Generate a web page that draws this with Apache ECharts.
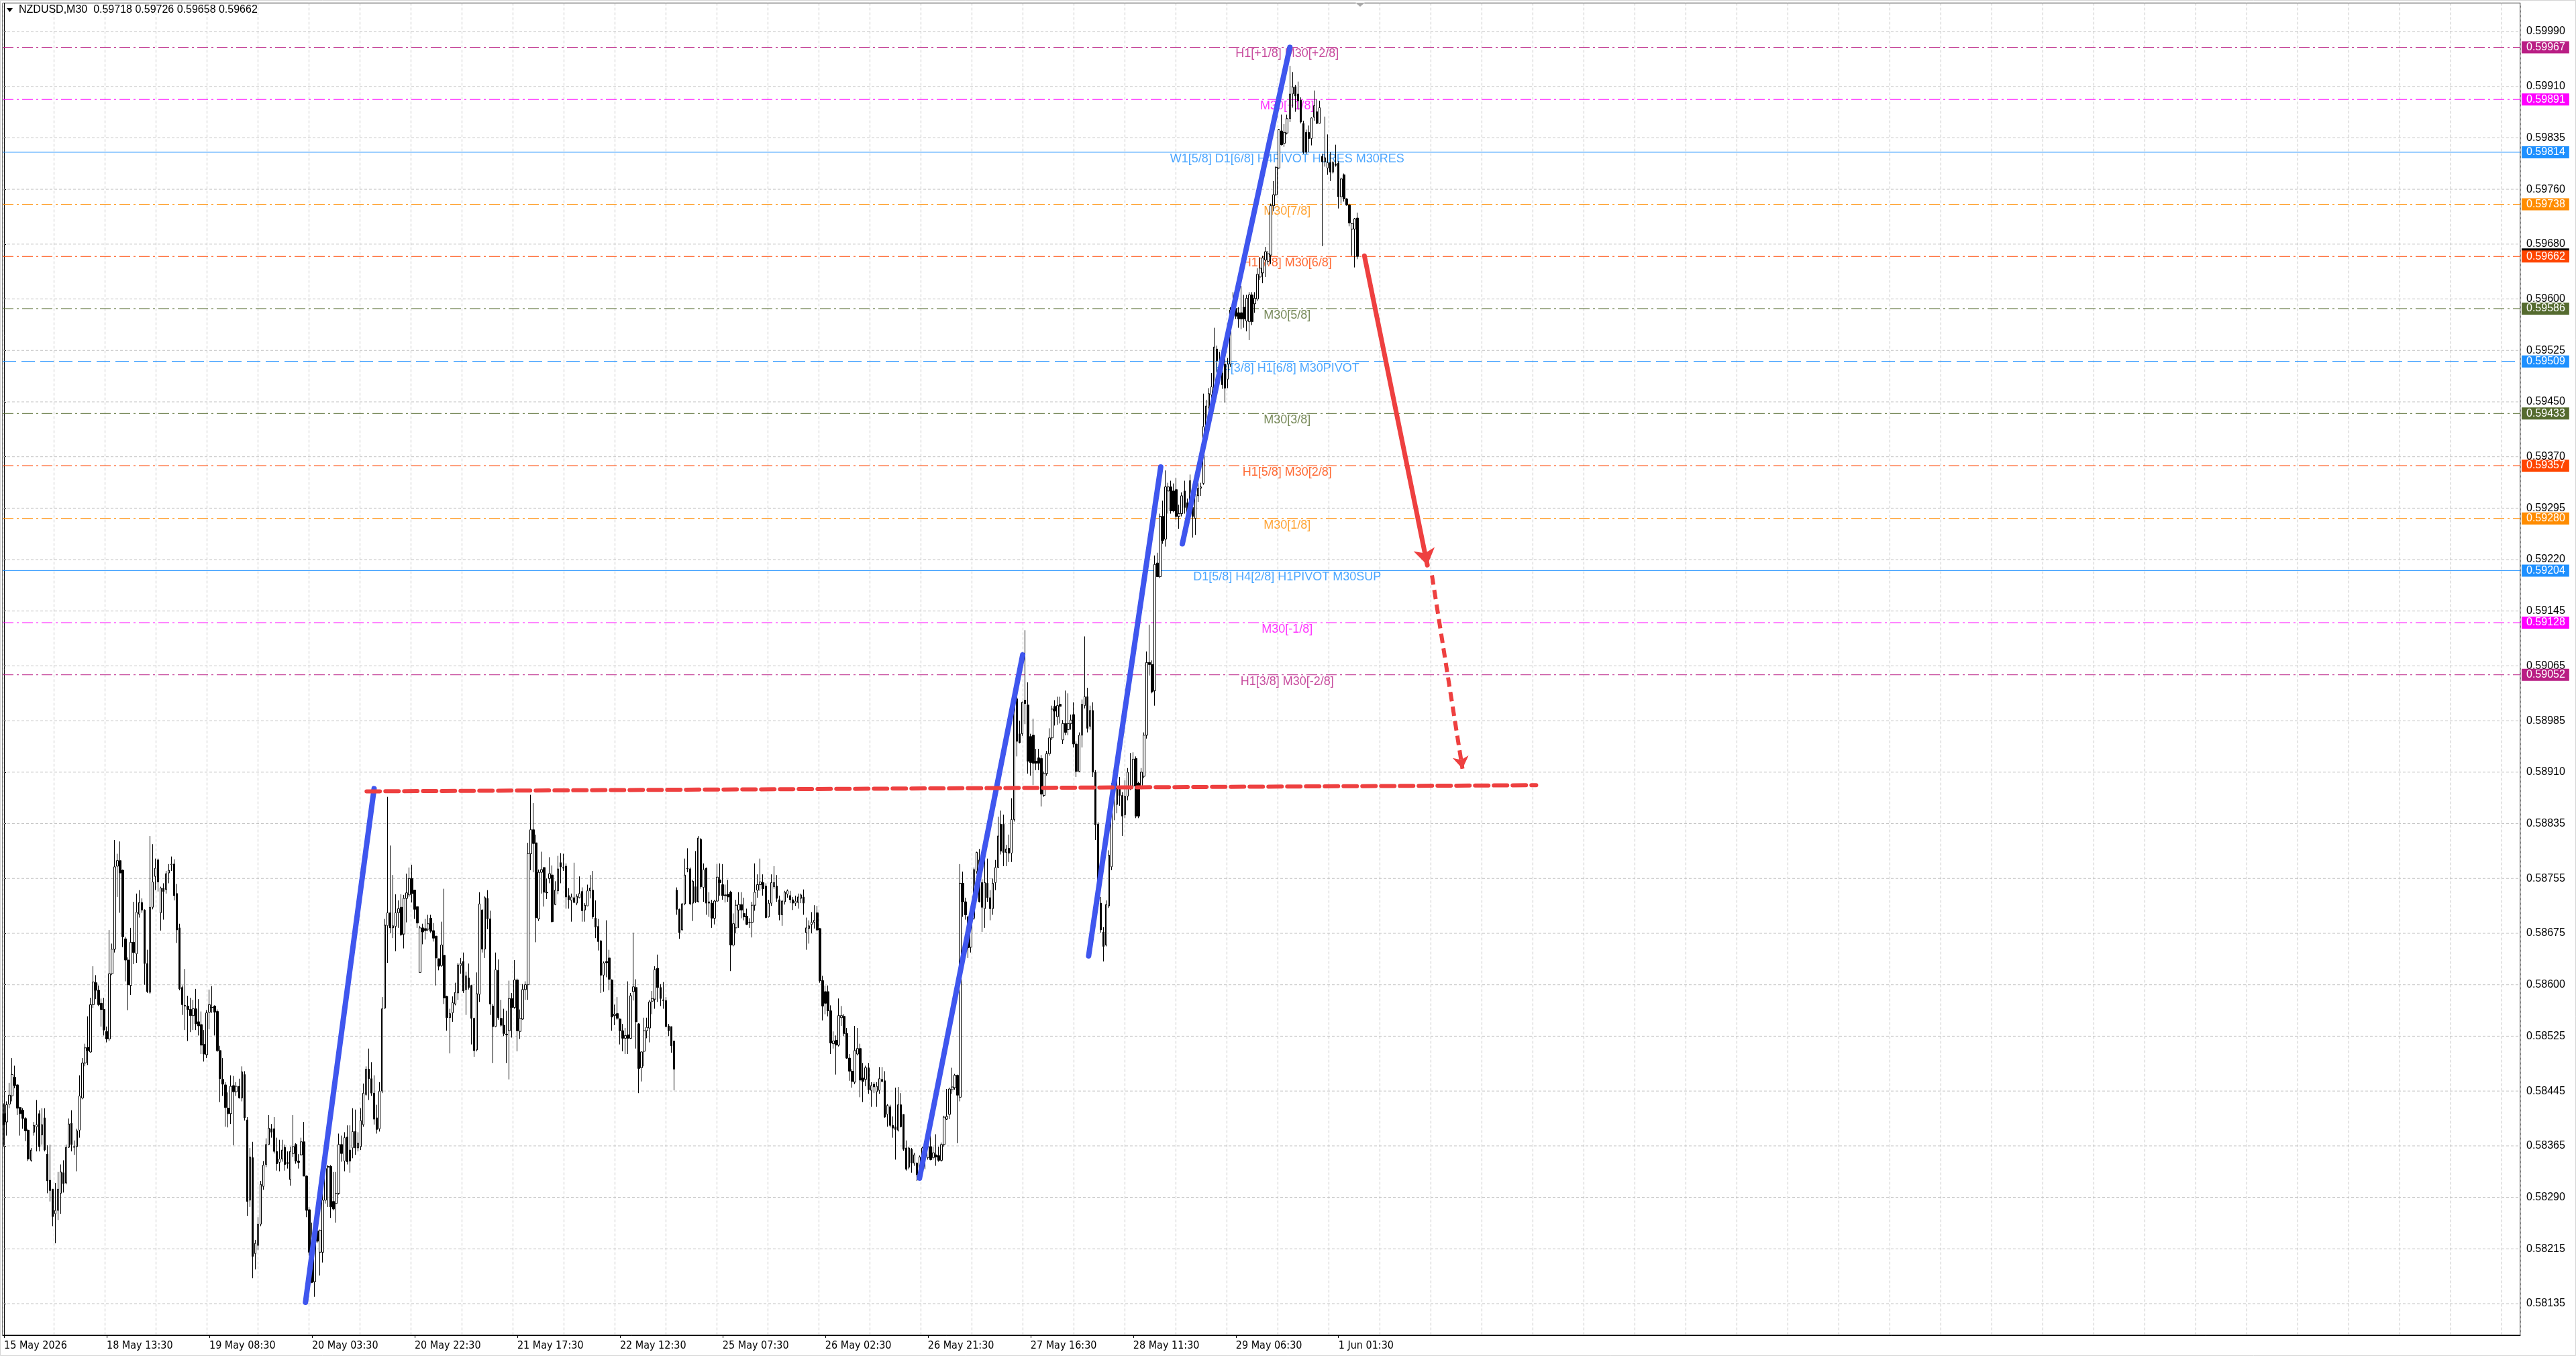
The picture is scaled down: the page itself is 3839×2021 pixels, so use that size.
<!DOCTYPE html>
<html><head><meta charset="utf-8">
<script src="https://cdn.jsdelivr.net/npm/echarts@6/dist/echarts.min.js"></script>
<style>html,body{margin:0;padding:0;background:#fff}#c{width:3839px;height:2021px}</style>
</head><body><div id="c"></div>
<script>
const symbolName = 'NZDUSD,M30';
const lastQuote = ['0.59718', '0.59726', '0.59658', '0.59662'];
const dateLabels = ['15 May 2026','18 May 13:30','19 May 08:30','20 May 03:30','20 May 22:30','21 May 17:30','22 May 12:30','25 May 07:30','26 May 02:30','26 May 21:30','27 May 16:30','28 May 11:30','29 May 06:30','1 Jun 01:30'];
const priceTicks = [0.59990,0.59910,0.59835,0.59760,0.59680,0.59600,0.59525,0.59450,0.59370,0.59295,0.59220,0.59145,0.59065,0.58985,0.58910,0.58835,0.58755,0.58675,0.58600,0.58525,0.58445,0.58365,0.58290,0.58215,0.58135];
const levelValues = [0.59967,0.59891,0.59814,0.59738,0.59662,0.59586,0.59509,0.59433,0.59357,0.59280,0.59204,0.59128,0.59052];
const levelNames = ['H1[+1/8] M30[+2/8]','M30[+1/8]','W1[5/8] D1[6/8] H4PIVOT H1RES M30RES','M30[7/8]','H1[7/8] M30[6/8]','M30[5/8]','H4[3/8] H1[6/8] M30PIVOT','M30[3/8]','H1[5/8] M30[2/8]','M30[1/8]','D1[5/8] H4[2/8] H1PIVOT M30SUP','M30[-1/8]','H1[3/8] M30[-2/8]'];
const levelColors = ['#B91E84','#FF00FF','#1E90FF','#FF8C00','#FF4500','#556B2F','#1E90FF','#556B2F','#FF4500','#FF8C00','#1E90FF','#FF00FF','#B91E84'];
const levelKinds = ['dashdot','dashdot','solid','dashdot','dashdot','dashdot','dash','dashdot','dashdot','dashdot','solid','dashdot','dashdot'];

// candles: [open, high, low, close] in 1e-5 price points
const candlesA = [
[58412,58427,58364,58396],[58400,58430,58380,58425],[58426,58457,58420,58439],[58438,58493,58430,58469],[58465,58482,58449,58453],
[58454,58455,58410,58420],[58421,58422,58380,58412],[58417,58420,58390,58405],[58405,58407,58372,58387],[58388,58390,58343,58346],
[58344,58362,58342,58359],[58385,58400,58380,58395],[58393,58432,58357,58396],[58412,58417,58357,58364],[58381,58420,58367,58396],
[58406,58420,58357,58359],[58353,58366,58296,58314],[58315,58367,58284,58300],[58302,58302,58248,58262],[58266,58311,58223,58271],
[58271,58327,58257,58302],[58296,58338,58266,58327],[58326,58344,58297,58310],[58311,58367,58309,58363],[58363,58405,58362,58397],
[58398,58417,58357,58367],[58364,58373,58352,58363],[58364,58390,58328,58387],[58388,58468,58377,58438],[58435,58493,58433,58486],
[58486,58514,58481,58508],[58509,58554,58483,58504],[58502,58581,58501,58571],[58571,58627,58566,58604],[58603,58614,58579,58592],
[58592,58599,58569,58571],[58573,58580,58539,58564],[58564,58581,58526,58534],[58532,58539,58516,58521],[58521,58680,58518,58616],
[58616,58660,58614,58652],[58652,58811,58647,58772],[58773,58791,58728,58781],[58781,58809,58705,58763],[58767,58768,58655,58670],
[58667,58670,58605,58636],[58636,58640,58563,58600],[58599,58683,58585,58662],[58662,58721,58630,58647],[58645,58733,58632,58706],
[58703,58738,58698,58720],[58720,58726,58705,58709],[58709,58710,58600,58631],[58631,58651,58588,58590],[58589,58817,58587,58713],
[58713,58805,58710,58750],[58758,58784,58738,58770],[58782,58784,58736,58750],[58705,58743,58679,58741],[58741,58748,58695,58736],
[58739,58766,58733,58762],[58763,58776,58748,58767],[58775,58787,58766,58776],[58776,58783,58723,58730],[58733,58747,58661,58680],
[58683,58689,58592,58594],[58596,58599,58556,58571],[58570,58623,58534,58569],[58569,58584,58518,58564],[58564,58581,58531,58555],
[58555,58578,58534,58565],[58565,58594,58534,58543],[58546,58579,58526,58540],[58542,58561,58499,58512],[58513,58534,58488,58499],
[58498,58563,58493,58559],[58560,58593,58535,58571],[58567,58598,58559,58567],[58569,58570,58526,58560],[58561,58564,58502,58504],
[58504,58511,58429,58463],[58462,58493,58438,58455],[58454,58458,58393,58421],[58420,58443,58392,58412],[58412,58468,58397,58452],
[58453,58467,58366,58444],[58444,58458,58438,58452],[58452,58463,58434,58435],[58435,58481,58430,58473],[58469,58474,58402,58406],
[58403,58407,58263,58284],[58286,58362,58276,58349],[58348,58371,58172,58204],[58208,58228,58185,58223],[58220,58261,58213,58251],
[58251,58314,58248,58309],[58306,58343,58301,58337],[58338,58376,58334,58367],[58367,58410,58367,58391],[58390,58397,58377,58385],
[58390,58407,58354,58357],[58357,58377,58329,58339],[58341,58374,58328,58346],[58346,58374,58342,58359],[58363,58367,58329,58338],
[58341,58357,58332,58339],[58316,58364,58307,58357],[58354,58410,58349,58364],[58367,58369,58339,58343],[58343,58353,58332,58341],
[58352,58377,58351,58371],[58371,58400,58321,58321],[58321,58322,58261,58271],[58272,58276,58205,58210],[58214,58253,58165,58166],
[58167,58231,58145,58226],[58241,58245,58223,58226],[58210,58243,58176,58242],[58210,58306,58195,58286],[58286,58338,58281,58332],
[58335,58337,58276,58334],[58335,58337,58260,58276],[58284,58327,58271,58273],[58281,58327,58253,58296],[58296,58383,58294,58367],
[58367,58380,58342,58354],[58343,58385,58328,58377],[58378,58395,58338,58342],[58359,58395,58326,58343],[58362,58420,58347,58386],
[58386,58418,58352,58362],[58362,58385,58357,58369],[58364,58420,58359,58402]
];
const candlesB = [
[58396,58456,58393,58442],[58440,58481,58438,58477],[58477,58507,58432,58463],[58463,58487,58438,58442],[58442,58468,58396,58404],
[58406,58425,58383,58389],[58390,58458,58386,58445],[58445,58582,58442,58565],[58566,58696,58565,58687],[58686,58874,58632,58705],
[58705,58803,58675,58683],[58683,58760,58668,58686],[58685,58732,58649,58705],[58705,58723,58683,58711],[58713,58732,58671,58673],
[58674,58731,58653,58726],[58726,58762,58691,58734],[58731,58771,58728,58755],[58755,58775,58720,58733],[58738,58738,58696,58710],
[58714,58714,58683,58690],[58618,58686,58618,58683],[58683,58689,58659,58677],[58682,58696,58666,58679],[58681,58702,58678,58689],
[58697,58702,58676,58678],[58679,58690,58663,58668],[58671,58671,58599,58639],[58638,58638,58621,58627],[58628,58692,58626,58658],
[58643,58740,58572,58581],[58583,58584,58533,58552],[58552,58565,58500,58558],[58559,58583,58546,58574],[58572,58603,58570,58589],
[58588,58632,58578,58629],[58628,58639,58616,58631],[58634,58647,58588,58591],[58593,58619,58556,58613],[58610,58631,58593,58596],
[58599,58600,58513,58551],[58551,58552,58495,58504],[58505,58618,58503,58587],[58586,58735,58575,58718],[58709,58710,58647,58652],
[58652,58729,58639,58727],[58726,58738,58681,58696],[58696,58708,58556,58572],[58569,58572,58486,58539],[58539,58647,58538,58622],
[58621,58637,58549,58552],[58551,58578,58539,58541],[58541,58565,58525,58529],[58528,58562,58486,58527],[58533,58606,58462,58580],
[58580,58588,58523,58567],[58567,58636,58565,58607],[58607,58609,58503,58533],[58532,58564,58521,58551],[58550,58601,58549,58593],
[58593,58605,58578,58600],[58600,58807,58578,58791],[58791,58877,58767,58826],[58826,58865,58764,58806],[58807,58819,58662,58698],
[58696,58768,58693,58764],[58764,58794,58733,58768],[58771,58771,58714,58735],[58735,58755,58725,58734],[58755,58786,58748,58762],
[58760,58774,58691,58692],[58717,58751,58716,58738],[58737,58788,58732,58769],[58778,58792,58748,58772],[58771,58791,58766,58770],
[58773,58777,58711,58728],[58730,58741,58711,58724],[58723,58733,58692,58728],[58727,58778,58719,58720],[58719,58732,58716,58729],
[58727,58758,58726,58733],[58736,58742,58692,58708],[58709,58719,58692,58716],[58715,58746,58715,58737],[58737,58760,58726,58741],
[58738,58766,58696,58699],[58697,58723,58668,58684],[58685,58696,58650,58663],[58664,58665,58588,58614],[58614,58634,58590,58632],
[58634,58694,58611,58632],[58639,58651,58592,58608],[58607,58608,58533,58553],[58555,58571,58541,58557],[58558,58582,58549,58551],
[58550,58551,58513,58533],[58533,58543,58503,58522],[58522,58537,58499,58526],[58527,58605,58499,58522],[58522,58588,58521,58584],
[58590,58676,58577,58597],[58596,58608,58507,58546],[58543,58544,58442,58478],[58479,58503,58459,58502],[58503,58552,58481,58533],
[58533,58552,58522,58538],[58537,58578,58516,58575],[58576,58591,58557,58580],[58579,58627,58565,58622],[58624,58644,58575,58596],
[58596,58601,58569,58580],[58578,58604,58565,58577],[58577,58582,58538,58539],[58540,58543,58525,58533],[58539,58539,58501,58511],
[58518,58518,58446,58477]
];
const candlesC = [
[58738,58742,58702,58710],[58710,58711,58667,58676],[58680,58719,58679,58718],[58718,58784,58716,58760],[58770,58799,58764,58769],
[58769,58771,58716,58718],[58719,58753,58693,58751],[58743,58795,58719,58721],
[58721,58817,58720,58814],[58812,58814,58740,58743],[58742,58777,58721,58768],[58770,58771,58702,58719],[58721,58735,58699,58719],
[58719,58724,58683,58697],[58697,58724,58688,58722],[58722,58776,58721,58757],[58753,58777,58730,58749],[58746,58776,58724,58730],
[58731,58746,58720,58730],[58732,58753,58721,58728],[58735,58737,58620,58658],[58658,58704,58656,58689],[58683,58724,58675,58716],
[58709,58735,58683,58717],[58717,58735,58697,58709],[58704,58727,58694,58699],[58700,58711,58687,58688],[58691,58697,58683,58691],
[58691,58721,58669,58716],[58716,58777,58708,58735],[58738,58761,58727,58746],[58746,58784,58737,58750],[58749,58761,58730,58740],
[58744,58748,58697,58698],[58699,58724,58698,58719],[58719,58761,58715,58749],[58743,58773,58740,58749],[58744,58760,58721,58726],
[58724,58730,58694,58702],[58702,58724,58686,58722],[58721,58737,58717,58735],[58732,58739,58727,58737],[58730,58737,58719,58724],
[58724,58728,58709,58719],[58719,58730,58715,58722],[58720,58733,58711,58728],[58726,58733,58719,58731],[58728,58739,58702,58719],
[58676,58698,58651,58683],[58682,58694,58660,58686],[58688,58706,58675,58691],[58691,58716,58682,58694],[58705,58715,58678,58680],
[58682,58683,58603,58606],[58606,58613,58548,58569],[58590,58599,58557,58573],[58590,58599,58554,58562],[58562,58570,58499,58515],
[58514,58532,58507,58518],[58519,58526,58469,58512],[58512,58580,58510,58555],[58552,58569,58540,58555],[58554,58557,58525,58529],
[58529,58537,58492,58493],[58493,58499,58460,58474],[58474,58477,58450,58459],[58458,58540,58455,58504],[58499,58537,58497,58507],
[58507,58514,58436,58461],[58464,58486,58429,58459],[58462,58482,58452,58479],[58479,58486,58441,58447],[58446,58458,58422,58453],
[58455,58458,58442,58451],[58444,58458,58422,58452],[58446,58480,58441,58463],[58462,58480,58458,58459],[58460,58474,58406,58407],
[58411,58426,58393,58424],[58422,58425,58392,58395],[58395,58408,58377,58391],[58393,58450,58345,58389],[58388,58451,58386,58425],
[58425,58442,58392,58393],[58411,58411,58358,58360],[58362,58373,58329,58331],[58334,58364,58331,58362],[58360,58362,58326,58340],
[58340,58355,58336,58352],[58340,58341,58314,58323],[58322,58351,58321,58349],[58348,58364,58347,58362],[58359,58370,58331,58363],
[58348,58364,58345,58364],[58364,58381,58344,58345],[58348,58364,58345,58355],[58352,58382,58336,58349],[58351,58364,58342,58344],
[58344,58370,58342,58367],[58367,58409,58364,58407],[58404,58448,58403,58408],[58411,58450,58404,58448],[58447,58479,58441,58451],
[58450,58470,58447,58468],[58468,58469,58369,58439],[58436,58776,58430,58748],[58748,58765,58699,58721],[58721,58727,58695,58702],
[58699,58700,58639,58654],[58655,58699,58647,58697],[58697,58771,58695,58768],[58765,58794,58762,58793],[58782,58798,58720,58721],
[58749,58754,58677,58713],[58711,58795,58683,58749],[58748,58784,58721,58727],[58727,58738,58694,58711],[58711,58755,58702,58748],
[58749,58782,58738,58771],[58771,58845,58770,58817],[58834,58854,58790,58795],[58834,58848,58773,58793],[58793,58804,58773,58798],
[58799,58819,58779,58792],[58792,58872,58779,58841],[58841,59015,58838,59012],[59017,59020,58933,58955],[58966,58985,58952,58953],
[58966,59013,58963,59012],[59015,59117,58980,59010],[59008,59041,58908,58926],[58962,58966,58905,58924],[58964,58988,58891,58923],
[58926,58944,58913,58923],[58931,58944,58913,58923],[58930,58935,58860,58878],[58876,58911,58874,58908],[58908,58941,58905,58937],
[58937,58974,58934,58960],[58960,59007,58957,59002],[59006,59015,58978,58999],[58991,59020,58979,59007]
];
const candlesD = [
[59009,59020,58981,59006],[58957,58986,58951,58981],[58981,59029,58964,58968],[58972,59025,58964,58981],[58981,58994,58972,58986],
[58994,59012,58946,58951],[58951,58955,58903,58911],[58911,58968,58910,58964],[58964,59016,58946,59009],[59007,59108,59003,59020],
[59020,59033,58968,58974],[58977,59007,58972,59000],[59000,59012,58903,58910],[58910,58913,58811,58833],[58834,58837,58715,58719],
[58719,58728,58676,58680],[58677,58684,58634,58656],[58658,58723,58656,58717],[58715,58796,58712,58789],[58772,58894,58767,58885],
[58885,58910,58840,58894],[58863,58907,58850,58887],[58887,58903,58861,58876],[58876,58881,58817,58846],[58848,58898,58843,58875],
[58875,58916,58869,58910],[58890,58938,58884,58886],[58890,58939,58887,58929],[58930,58933,58843,58846],[58894,58896,58843,58846],
[58889,58916,58885,58910],[58904,58968,58901,58964],[58964,59086,58959,59070],[59070,59125,59051,59067],[59067,59073,59025,59027],
[59029,59226,59007,59213],[59215,59230,59195,59195],[59195,59287,59193,59283],[59283,59306,59243,59248],[59250,59350,59239,59326],
[59320,59332,59287,59326],[59326,59335,59287,59291],[59320,59331,59289,59291],[59322,59339,59278,59283],[59283,59300,59265,59287],
[59287,59318,59283,59313],[59320,59335,59287,59296],[59303,59309,59265,59285],[59283,59344,59278,59335],[59296,59313,59252,59283],
[59280,59344,59256,59315],[59313,59332,59304,59324],[59324,59332,59313,59326],[59331,59462,59329,59414],[59416,59453,59411,59444],
[59442,59470,59437,59462],[59460,59492,59453,59472],[59470,59558,59462,59530],[59527,59532,59488,59510],[59488,59523,59483,59501],
[59492,59498,59469,59475],[59505,59514,59449,59470],[59483,59514,59470,59505],[59505,59588,59501,59584],[59584,59610,59571,59575],
[59586,59593,59571,59575],[59580,59588,59558,59571],[59580,59619,59556,59571],[59588,59606,59558,59571],[59568,59606,59553,59601],
[59567,59610,59540,59606],[59606,59610,59562,59567],[59593,59610,59580,59601],[59600,59645,59597,59636],[59632,59661,59628,59645]
];
const candlesE = [
[59638,59663,59623,59660],[59657,59676,59632,59669],[59655,59670,59650,59666],[59664,59739,59651,59736],[59736,59772,59728,59752],
[59752,59794,59750,59792],[59791,59848,59790,59847],[59845,59869,59824,59825],[59827,59855,59822,59843],[59842,59869,59840,59863],
[59863,59940,59858,59899],[59899,59931,59879,59909],[59909,59912,59873,59896],[59899,59917,59876,59889],[59890,59894,59856,59858],
[59856,59860,59812,59814],[59843,59847,59811,59814],[59843,59853,59814,59834],[59834,59865,59824,59864],[59865,59904,59860,59882],
[59873,59891,59855,59856],[59856,59889,59856,59879],[59808,59812,59677,59800],[59800,59866,59793,59806],[59791,59840,59781,59799],
[59799,59814,59772,59785],[59785,59801,59783,59799],[59797,59825,59793,59795],[59798,59801,59732,59749],[59749,59777,59739,59775],
[59781,59783,59742,59746],[59746,59747,59736,59737],[59737,59739,59706,59711],[59702,59711,59663,59710],[59702,59718,59646,59717],
[59718,59726,59658,59662]
];

// annotations in (bar index, price)
const blueTrends = [
  [111.6, 0.58137, 137.0, 0.58886],
  [338.9, 0.58318, 377.1, 0.59081],
  [401.5, 0.58642, 428.2, 0.59355],
  [436.2, 0.59243, 476.0, 0.59967]
];
const redBreakout = [134.2, 0.58882, 567.2, 0.58891];
const redArrow = [503.6, 0.59663, 526.9, 0.59212];
const redArrowDashed = [528.6, 0.59197, 539.9, 0.58915];
const levelTextBar = 475;

const CAT_COUNT = 932;
const LABEL_STEP = 38;
const GRID_STEP_BARS = 18.8796;
const X_MIN = -0.5, X_MAX = CAT_COUNT - 0.5;

const bars = [].concat(candlesA, candlesB, candlesC, candlesD, candlesE);
const toPrice = p => p / 100000;
const candleData = bars.map(b => [toPrice(b[0]), toPrice(b[3]), toPrice(b[2]), toPrice(b[1])]);
const bidPrice = toPrice(bars[bars.length - 1][3]);
const categories = Array.from({length: CAT_COUNT}, (_, i) => String(i));
const isLabelBar = i => i % LABEL_STEP === 0 && (i / LABEL_STEP) < dateLabels.length;
const styleOf = k => k === 'solid' ? 'solid' : (k === 'dash' ? [20, 8] : [16, 5, 3, 5]);
const FONT = '"Liberation Sans", Arial, sans-serif';

const tickSeries = priceTicks.map(v => ({
  type: 'line', xAxisIndex: 1, yAxisIndex: 0, silent: true, z: 1, clip: false,
  symbol: 'none', data: [[X_MIN, v], [X_MAX, v]],
  lineStyle: {color: '#c4c4c4', type: [4, 3], width: 1},
  endLabel: {show: true, formatter: v.toFixed(5), distance: 9, color: '#000', fontSize: 16, fontFamily: FONT},
  emphasis: {disabled: true}
}));
const levelSeries = levelValues.map((v, i) => ({
  type: 'line', xAxisIndex: 1, yAxisIndex: 0, silent: true, z: 1.5, clip: false,
  symbol: 'none', data: [[X_MIN, v], [X_MAX, v]],
  lineStyle: {color: levelColors[i], type: styleOf(levelKinds[i]), width: 1},
  endLabel: {show: true, formatter: v.toFixed(5), distance: 2, color: '#fff', backgroundColor: levelColors[i],
    padding: [1, 6, 1, 7], lineHeight: 16, fontSize: 16, fontFamily: FONT},
  emphasis: {disabled: true}
}));
const bidSeries = {
  type: 'line', xAxisIndex: 1, yAxisIndex: 0, silent: true, z: 1.2, clip: false,
  symbol: 'none', data: [[X_MIN, bidPrice], [X_MAX, bidPrice]],
  lineStyle: {opacity: 0},
  endLabel: {show: true, formatter: bidPrice.toFixed(5), distance: 2, color: '#000', backgroundColor: '#000',
    padding: [1, 6, 1, 7], lineHeight: 16, fontSize: 16, fontFamily: FONT, offset: [0, -3]},
  emphasis: {disabled: true}
};

const chart = echarts.init(document.getElementById('c'), null, {renderer: 'canvas', width: 3839, height: 2021});

const option = {
  animation: false,
  backgroundColor: '#ffffff',
  grid: {left: 4, right: 83, top: 4.5, bottom: 31, show: true, borderColor: '#000', borderWidth: 1, backgroundColor: 'transparent'},
  xAxis: [
    {
      type: 'category', data: categories, boundaryGap: true, position: 'bottom',
      axisLine: {show: true, lineStyle: {color: '#000', width: 1}},
      axisTick: {show: true, alignWithLabel: true, interval: (i) => isLabelBar(i), length: 4, lineStyle: {color: '#000'}},
      axisLabel: {
        show: true, interval: (i) => isLabelBar(i),
        formatter: (v, i) => dateLabels[Math.round(Number(v) / LABEL_STEP)] || '',
        align: 'left', margin: 8, color: '#000', fontSize: 16,
        fontFamily: '"Liberation Sans Narrow", "DejaVu Sans Condensed", sans-serif'
      },
      splitLine: {show: false}
    },
    {
      type: 'value', min: X_MIN, max: X_MAX, position: 'bottom', interval: GRID_STEP_BARS,
      axisLine: {show: false}, axisTick: {show: false}, axisLabel: {show: false},
      splitLine: {show: true, lineStyle: {color: '#c4c4c4', type: [4, 3], width: 1}}
    }
  ],
  yAxis: {
    type: 'value', position: 'right', min: 0.58089, max: 0.600316, scale: true,
    axisLine: {show: true, lineStyle: {color: '#000'}},
    axisTick: {show: true, customValues: priceTicks, length: 3, lineStyle: {color: '#000'}},
    axisLabel: {show: false}, splitLine: {show: false}
  },
  series: [].concat(tickSeries, [bidSeries], levelSeries, [
    {
      name: 'levelText', type: 'scatter', xAxisIndex: 1, yAxisIndex: 0, symbolSize: 0, silent: true, z: 2,
      data: levelValues.map((v, i) => ({
        value: [levelTextBar, v],
        label: {show: true, formatter: levelNames[i], color: levelColors[i]}
      })),
      label: {show: true, position: 'bottom', distance: 1, fontSize: 18, lineHeight: 18, fontFamily: FONT}
    },
    {
      name: symbolName, type: 'candlestick', xAxisIndex: 0, yAxisIndex: 0, z: 3,
      data: candleData, barWidth: 3, large: false,
      itemStyle: {color: '#ffffff', color0: '#000000', borderColor: '#000000', borderColor0: '#000000', borderColorDoji: '#000000', borderWidth: 1}
    },
    {
      name: 'blueTrends', type: 'lines', coordinateSystem: 'cartesian2d', xAxisIndex: 1, yAxisIndex: 0, z: 5, silent: true,
      lineStyle: {color: '#3F56EE', width: 8, opacity: 1, cap: 'round'},
      data: blueTrends.map(t => ({coords: [[t[0], t[1]], [t[2], t[3]]]}))
    },
    {
      name: 'redBreakout', type: 'lines', coordinateSystem: 'cartesian2d', xAxisIndex: 1, yAxisIndex: 0, z: 5, silent: true,
      lineStyle: {color: '#EE4040', width: 6, opacity: 1, type: [20, 8], cap: 'round'},
      data: [{coords: [[redBreakout[0], redBreakout[1]], [redBreakout[2], redBreakout[3]]]}]
    },
    {
      name: 'redArrow', type: 'lines', coordinateSystem: 'cartesian2d', xAxisIndex: 1, yAxisIndex: 0, z: 5, silent: true,
      symbol: ['none', 'arrow'], symbolSize: [1, 24],
      lineStyle: {color: '#EE4040', width: 7, opacity: 1, cap: 'round'},
      data: [{coords: [[redArrow[0], redArrow[1]], [redArrow[2], redArrow[3]]]}]
    },
    {
      name: 'redArrowDashed', type: 'lines', coordinateSystem: 'cartesian2d', xAxisIndex: 1, yAxisIndex: 0, z: 5, silent: true,
      symbol: ['none', 'arrow'], symbolSize: [1, 18],
      lineStyle: {color: '#EE4040', width: 6, opacity: 1, type: [14, 8]},
      data: [{coords: [[redArrowDashed[0], redArrowDashed[1]], [redArrowDashed[2], redArrowDashed[3]]]}]
    }
  ]),
  graphic: [
    {type: 'polygon', shape: {points: [[10, 12], [19, 12], [14.5, 18]]}, style: {fill: '#000'}, z: 10},
    {type: 'text', left: 28, top: 7, z: 10, style: {text: symbolName + '  ' + lastQuote.join(' '), fill: '#000', font: '16px "Liberation Sans", Arial, sans-serif'}},
    {type: 'polygon', shape: {points: [[2020, 4], [2034, 4], [2027, 10]]}, style: {fill: '#a8a8a8'}, z: 10},
    {type: 'rect', shape: {x: 0.5, y: 0.5, width: 3838, height: 2020}, style: {fill: 'none', stroke: '#d4d4d4', lineWidth: 1}, z: 0}
  ]
};
chart.setOption(option);
</script>
</body></html>
